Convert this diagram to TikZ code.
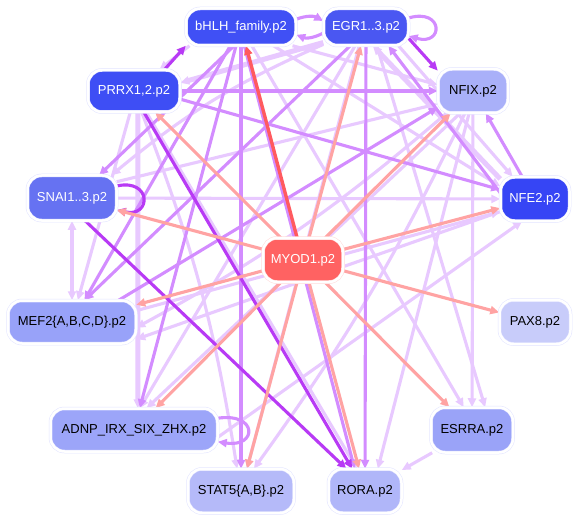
\documentclass[tikz,border=0pt]{standalone}
\usepackage{fontspec}
\setmainfont{Liberation Sans}
\usetikzlibrary{arrows.meta,backgrounds}
\definecolor{cSal}{HTML}{FFA3A3}
\definecolor{cRed}{HTML}{FF5A5F}
\definecolor{cDp}{HTML}{B83AF5}
\definecolor{cMp}{HTML}{D38CFF}
\definecolor{cLp}{HTML}{E8C9FF}
\definecolor{cLav}{HTML}{E2E4FF}
\definecolor{cPink}{HTML}{FFDADA}
\definecolor{fBh}{HTML}{4050F5}
\definecolor{fEg}{HTML}{4A57F2}
\definecolor{fPr}{HTML}{3E4EF5}
\definecolor{fNx}{HTML}{A9B0F9}
\definecolor{fNe}{HTML}{3645F5}
\definecolor{fSn}{HTML}{6672F2}
\definecolor{fMe}{HTML}{98A2F9}
\definecolor{fMy}{HTML}{FF6262}
\definecolor{fAd}{HTML}{9CA5F9}
\definecolor{fSt}{HTML}{B5BAF9}
\definecolor{fRo}{HTML}{B0B6F9}
\definecolor{fEs}{HTML}{9AA3F8}
\definecolor{fPa}{HTML}{C8CCFA}
\begin{document}
\begin{tikzpicture}[x=1pt,y=1pt,
  nd/.style={rounded corners=14pt, draw=cLav, double=white, double distance=2.5pt,
    line width=0.5pt, inner sep=0pt, align=center,
    font=\fontsize{13}{15}\selectfont},
  tipA/.tip={Triangle[length=9pt,width=8pt]},
  ed/.style={line width=3.1pt, -tipA},
  eS/.style={ed, draw=cSal},
  eR/.style={ed, draw=cRed, line width=3.4pt},
  eD/.style={ed, draw=cDp},
  eM/.style={ed, draw=cMp},
  eL/.style={ed, draw=cLp},
  eT/.style={ed, draw=cLp, line width=5pt}
]
\useasboundingbox (0,0) rectangle (577,-521);

% nodes
\node[nd, fill=fBh, text=white, minimum width=110, minimum height=37] (bhlh) at (241,-27) {bHLH\_family.p2};
\node[nd, fill=fEg, text=white, minimum width=85, minimum height=37] (egr) at (366,-27) {EGR1..3.p2};
\node[nd, fill=fPr, text=white, minimum width=92, minimum height=42] (prrx) at (134,-91) {PRRX1,2.p2};
\node[nd, fill=fNx, text=black, minimum width=70, minimum height=44] (nfix) at (473,-91) {NFIX.p2};
\node[nd, fill=fNe, text=white, minimum width=69, minimum height=44] (nfe2) at (535,-199) {NFE2.p2};
\node[nd, fill=fSn, text=white, minimum width=89, minimum height=45] (snai) at (72,-198) {SNAI1..3.p2};
\node[nd, fill=fMe, text=black, minimum width=128, minimum height=43] (mef2) at (72,-322) {MEF2\{A,B,C,D\}.p2};
\node[nd, draw=cPink, fill=fMy, text=white, minimum width=80, minimum height=44] (myod) at (303,-260) {MYOD1.p2};
\node[nd, fill=fAd, text=black, minimum width=167, minimum height=43] (adnp) at (134,-430) {ADNP\_IRX\_SIX\_ZHX.p2};
\node[nd, fill=fSt, text=black, minimum width=106, minimum height=44] (stat5) at (241,-491) {STAT5\{A,B\}.p2};
\node[nd, fill=fRo, text=black, minimum width=73, minimum height=44] (rora) at (365,-491) {RORA.p2};
\node[nd, fill=fEs, text=black, minimum width=82, minimum height=45] (esrra) at (472,-430) {ESRRA.p2};
\node[nd, fill=fPa, text=black, minimum width=71, minimum height=44] (pax8) at (535,-322) {PAX8.p2};

\begin{scope}[on background layer]
\fill[white] (0,0) rectangle (577,-521);
% light purple edges
\draw[eT] (egr.200) -- (prrx.10);
\draw[eT] (nfe2.150) -- (egr.-70);
\draw[eT] (prrx.-80) -- (adnp.80);
\draw[eL] (egr) to[bend right=8] (snai.30);
\draw[eL] (snai) -- (nfe2);
\draw[eL, tipA-tipA] (snai) -- (mef2);
\draw[eL] (snai.20) -- (nfix.200);
\draw[eL] (mef2.10) -- (nfe2.200);
\draw[eL] (nfix) -- (esrra);
\draw[eL] (nfix.-100) -- (rora.60);
\draw[eL] (nfix.-110) to[bend left=5] (stat5.60);
\draw[eL] (nfix.-120) -- (adnp.60);
\draw[eL] (nfix.-140) to[bend left=6] (mef2.-5);
\draw[eL] (egr.-60) -- (esrra.60);
\draw[eL] (egr.-120) -- (adnp.75);
\draw[eL] (egr.-110) -- (stat5.75);
\draw[eL] (prrx.-60) -- (rora.110);
\draw[eL] (prrx.-70) to[bend left=6] (stat5.100);
\draw[eL] (prrx.-100) -- (mef2.75);
\draw[eL] (bhlh.-20) -- (nfix.170);
\draw[eL] (bhlh.200) -- (prrx.40);
\draw[eL] (bhlh.-60) -- (esrra.110);
\draw[eL] (bhlh.-30) -- (nfe2.160);
\draw[eL] (esrra) -- (rora);
\draw[eL] (adnp.-5) -- (nfe2.-120);
\draw[eL] (nfe2.200) -- (mef2.-15);
\draw[eL] (egr.-30) -- (nfe2.135);
% medium purple edges
\draw[eM] (bhlh) -- (stat5);
\draw[eM] (egr) -- (rora);
\draw[eM] (prrx) -- (nfix);
\draw[eM] (bhlh.-80) -- (rora.115);
\draw[eM] (bhlh) -- (mef2);
\draw[eM] (bhlh) -- (adnp);
\draw[eM] (egr.-130) -- (mef2.60);
\draw[eM] (mef2.25) -- (nfix.205);
\draw[eM] (prrx.-10) -- (nfe2.165);
\draw[eM] (nfe2) -- (nfix);
\draw[eM] (nfe2.170) -- (egr.-40);
\draw[eM] (bhlh.-110) -- (snai.40);
\draw[eM] (bhlh.8) to[bend left=25] (egr.172);
\draw[eM] (egr.188) to[bend left=25] (bhlh.-8);
\draw[eM] (egr.12) .. controls +(35,10) and +(35,-10) .. (egr.-12);
\draw[eM] (adnp.8) .. controls +(40,6) and +(40,-6) .. (adnp.-8);
% dark purple edges
\draw[eD] (snai.-60) -- (rora.130);
\draw[eD] (prrx.-65) -- (rora.120);
\draw[eD] (prrx.35) -- (bhlh.south west);
\draw[eD] (egr.-15) -- (nfix.150);
\draw[eD] (snai.15) .. controls +(35,8) and +(35,-8) .. (snai.-15);
% MYOD1 edges
\draw[eR] (myod) -- (bhlh);
\draw[eS] (myod) -- (egr);
\draw[eS] (myod) -- (prrx);
\draw[eS] (myod) -- (nfix);
\draw[eS] (myod) -- (nfe2);
\draw[eS] (myod) -- (snai);
\draw[eS] (myod) -- (mef2);
\draw[eS] (myod) -- (pax8);
\draw[eS] (myod) -- (esrra);
\draw[eS] (myod) -- (rora);
\draw[eS] (myod) -- (stat5);
\draw[eS] (myod) -- (adnp);
\end{scope}
\end{tikzpicture}
\end{document}
